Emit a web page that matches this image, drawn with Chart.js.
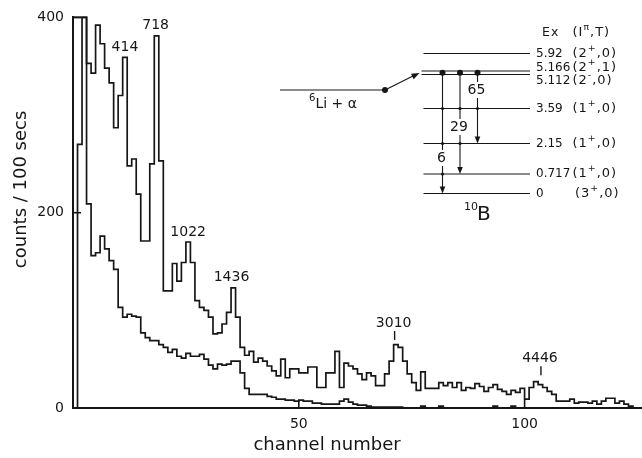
<!DOCTYPE html>
<html>
<head>
<meta charset="utf-8">
<title>6Li + alpha gamma spectrum</title>
<script src="https://cdn.jsdelivr.net/npm/chart.js@4.4.1/dist/chart.umd.min.js"></script>
<style>
  body { margin: 0; background: #fff; }
  canvas { display: block; }
</style>
</head>
<body>
<canvas id="spectrum" width="642" height="458"></canvas>
<script>
// counts / 100 secs, one value per channel starting at channel 0
const countsPeaks = [
  400, 400, 400, 353, 343, 392, 373, 348, 333, 287,
  320, 359, 248, 255, 219, 171, 171, 250, 381, 253,
  120, 120, 148, 130, 149, 170, 149, 110, 103, 100,
  93, 76, 77, 86, 98, 123, 93, 62, 54, 58,
  47, 51, 48, 43, 38, 33, 50, 31, 40, 40,
  36, 36, 42, 42, 21, 21, 36, 36, 58, 21,
  46, 43, 40, 35, 29, 36, 33, 23, 23, 35,
  48, 65, 62, 48, 35, 26, 18, 37, 20, 20,
  20, 26, 23, 26, 21, 26, 18, 21, 20, 25,
  22, 17, 21, 24, 19, 17, 14, 18, 16, 20,
  9, 21, 27, 24, 21, 17, 14, 7, 7, 7,
  9, 5, 6, 6, 5, 7, 4, 7, 10, 10,
  5, 7, 4, 2, 0
];
const countsBackground = [
  0, 270, 400, 209, 156, 159, 176, 163, 151, 142,
  103, 93, 96, 94, 93, 77, 72, 69, 69, 65,
  62, 57, 60, 53, 51, 56, 53, 53, 55, 50,
  44, 40, 45, 44, 45, 48, 48, 36, 20, 14,
  14, 14, 14, 12, 11, 9, 9, 8, 8, 7,
  8, 7, 7, 5, 5, 4, 4, 4, 4, 7,
  9, 6, 4, 3, 3, 2, 1, 1, 1, 1,
  1, 1, 1, 0, 0, 0, 0, 2, 0, 0,
  0, 2, 0, 0, 0, 0, 0, 0, 0, 0,
  0, 0, 0, 2, 0, 0, 0, 2, 0, 0,
  0, 0, 0, 0, 0, 0, 0, 0, 0, 0,
  0, 0, 0, 0, 0, 0, 0, 0, 0, 0,
  0, 0, 0, 0, 0
];
const channels = countsPeaks.map((_, i) => i);

const xTicks = [50, 100];
const yTicks = [0, 200, 400];

// gamma-line labels (keV), placed at channel / count
const peakLabels = ['414', '718', '1022', '1436', '3010', '4446'];
const peakChannels = [11.5, 18.3, 25.5, 35.1, 71.0, 103.4];
const peakLabelCounts = [369, 392, 180, 134, 87, 51];
const peakMarked = [false, false, false, false, true, true];

// 10B level scheme (inset)
const levelEnergies = ['5.92', '5.166', '5.112', '3.59', '2.15', '0.717', '0'];
const levelSpins = ['(2^+,0)', '(2^+,1)', '(2^-,0)', '(1^+,0)', '(1^+,0)', '(1^+,0)', '(3^+,0)'];
const branchLabels = ['6', '29', '65'];

const INK = '#161616';
const FONT = '"DejaVu Sans", sans-serif';

function histogram(values) {
  const pts = values.map((v, i) => ({ x: channels[i], y: v }));
  pts.push({ x: channels.length, y: 0 });
  return pts;
}

// text with ^x or ^{xy} superscripts
function drawRich(ctx, str, x, y, size, align, spacing) {
  const parts = [];
  str.replace(/\^\{([^}]*)\}|\^(.)|([^^]+)/g, (m, a, b, c) => {
    if (c) parts.push({ t: c, sup: false });
    else parts.push({ t: a || b, sup: true });
    return m;
  });
  ctx.letterSpacing = (spacing || 0) + 'px';
  let w = 0;
  parts.forEach(p => {
    ctx.font = (p.sup ? size * 0.72 : size) + 'px ' + FONT;
    p.w = ctx.measureText(p.t).width;
    w += p.w;
  });
  let cx = align === 'center' ? x - w / 2 : x;
  ctx.textAlign = 'left';
  ctx.textBaseline = 'middle';
  parts.forEach(p => {
    ctx.font = (p.sup ? size * 0.72 : size) + 'px ' + FONT;
    ctx.fillText(p.t, cx, p.sup ? y - size * 0.4 : y);
    cx += p.w;
  });
  ctx.letterSpacing = '0px';
  return w;
}

function arrowHead(ctx, x1, y1, x2, y2, len, half) {
  const a = Math.atan2(y2 - y1, x2 - x1);
  const c = Math.cos(a), s = Math.sin(a);
  ctx.beginPath();
  ctx.moveTo(x2, y2);
  ctx.lineTo(x2 - len * c + half * s, y2 - len * s - half * c);
  ctx.lineTo(x2 - len * c - half * s, y2 - len * s + half * c);
  ctx.closePath();
  ctx.fill();
}

function line(ctx, x1, y1, x2, y2) {
  ctx.beginPath();
  ctx.moveTo(x1, y1);
  ctx.lineTo(x2, y2);
  ctx.stroke();
}

function dot(ctx, x, y, r) {
  ctx.beginPath();
  ctx.arc(x, y, r, 0, Math.PI * 2);
  ctx.fill();
}

const annotations = {
  id: 'annotations',
  afterDraw(chart) {
    const ctx = chart.ctx;
    const xs = chart.scales.x, ys = chart.scales.y;
    const area = chart.chartArea;
    ctx.save();
    ctx.strokeStyle = INK;
    ctx.fillStyle = INK;

    // inward tick marks
    ctx.lineWidth = 1.6;
    xTicks.forEach(v => {
      const px = xs.getPixelForValue(v);
      line(ctx, px, area.bottom, px, area.bottom - 8);
    });
    yTicks.slice(1).forEach(v => {
      const py = ys.getPixelForValue(v);
      line(ctx, area.left, py, area.left + 8, py);
    });

    // axis titles
    ctx.font = '18px ' + FONT;
    ctx.textAlign = 'center';
    ctx.textBaseline = 'middle';
    ctx.fillText('channel number', area.left + 254, area.bottom + 37);
    ctx.save();
    ctx.translate(area.left - 52, area.top + 172);
    ctx.rotate(-Math.PI / 2);
    ctx.fillText('counts / 100 secs', 0, 0);
    ctx.restore();

    // peak labels
    ctx.font = '14px ' + FONT;
    ctx.lineWidth = 1.4;
    peakLabels.forEach((t, i) => {
      const px = xs.getPixelForValue(peakChannels[i]);
      const py = ys.getPixelForValue(peakLabelCounts[i]);
      ctx.textAlign = 'center';
      ctx.textBaseline = 'middle';
      ctx.fillText(t, px, py);
      if (peakMarked[i]) line(ctx, px + 1, py + 8, px + 1, py + 17);
    });

    // level scheme inset
    ctx.lineWidth = 1.1;
    const levelY = [53.5, 71, 74.5, 108.5, 143.5, 174, 193.5];
    const labelY = [54, 67.5, 81, 108.5, 143.5, 174, 193.5];
    levelEnergies.forEach((e, i) => {
      const x0 = (i === 1 || i === 2) ? 421.5 : 423.5;
      line(ctx, x0, levelY[i], 530, levelY[i]);
      drawRich(ctx, e, 536, labelY[i], 12, 'left', 0);
      drawRich(ctx, levelSpins[i], i === 6 ? 575 : 572.5, labelY[i], 13, 'left', 1);
    });
    drawRich(ctx, 'Ex', 542, 33, 12.5, 'left', 1);
    drawRich(ctx, '(I^π,T)', 572.5, 33, 13, 'left', 1);

    // entrance channel
    line(ctx, 280, 90, 385, 90);
    dot(ctx, 385, 90, 3);
    line(ctx, 385, 90, 414, 75.5);
    arrowHead(ctx, 385, 90, 419.5, 73, 8, 3);
    drawRich(ctx, '^6Li + α', 333, 104, 14, 'center');

    // gamma branches from the resonance
    const bx = [442.5, 460, 477.5];
    const bEnd = [193.5, 174, 143.5];
    const bLab = [158, 127, 90];
    bx.forEach((x, i) => {
      line(ctx, x, 72.75, x, bLab[i] - 8);
      line(ctx, x, bLab[i] + 8, x, bEnd[i] - 6);
      arrowHead(ctx, x, bLab[i], x, bEnd[i], 7, 2.8);
      dot(ctx, x, 72.75, 3);
      drawRich(ctx, branchLabels[i], x - 1, bLab[i], 14, 'center');
    });
    [[0, 3], [1, 3], [2, 3], [0, 4], [1, 4], [0, 5]].forEach(([b, l]) => {
      dot(ctx, bx[b], levelY[l], 1.6);
    });

    // 10B
    ctx.textAlign = 'left';
    ctx.textBaseline = 'alphabetic';
    ctx.font = '11px ' + FONT;
    ctx.fillText('10', 464, 210);
    ctx.font = '20px ' + FONT;
    ctx.fillText('B', 477, 220);

    ctx.restore();
  }
};

const tickFont = { family: FONT, size: 14 };

new Chart(document.getElementById('spectrum').getContext('2d'), {
  type: 'line',
  data: {
    datasets: [
      {
        label: 'peaks',
        data: histogram(countsPeaks),
        stepped: true,
        borderColor: INK,
        borderWidth: 1.7,
        pointRadius: 0,
        fill: false,
        clip: 4
      },
      {
        label: 'background',
        data: histogram(countsBackground),
        stepped: true,
        borderColor: INK,
        borderWidth: 1.7,
        pointRadius: 0,
        fill: false,
        clip: 4
      }
    ]
  },
  options: {
    responsive: false,
    animation: false,
    layout: { padding: { top: 17, right: 0, bottom: 0, left: 0 } },
    plugins: {
      legend: { display: false },
      tooltip: { enabled: false }
    },
    scales: {
      x: {
        type: 'linear',
        min: 0,
        max: 126,
        border: { display: true, color: INK, width: 2 },
        grid: { display: false, drawTicks: false },
        ticks: { font: tickFont, color: INK, padding: 8, autoSkip: false, maxRotation: 0 },
        afterBuildTicks: axis => { axis.ticks = xTicks.map(v => ({ value: v })); },
        afterFit: axis => { axis.height = 50; }
      },
      y: {
        min: 0,
        max: 400,
        border: { display: true, color: INK, width: 2 },
        grid: { display: false, drawTicks: false },
        ticks: { font: tickFont, color: INK, padding: 9 },
        afterBuildTicks: axis => { axis.ticks = yTicks.map(v => ({ value: v })); },
        afterFit: axis => { axis.width = 73; }
      }
    }
  },
  plugins: [annotations]
});
</script>
</body>
</html>
